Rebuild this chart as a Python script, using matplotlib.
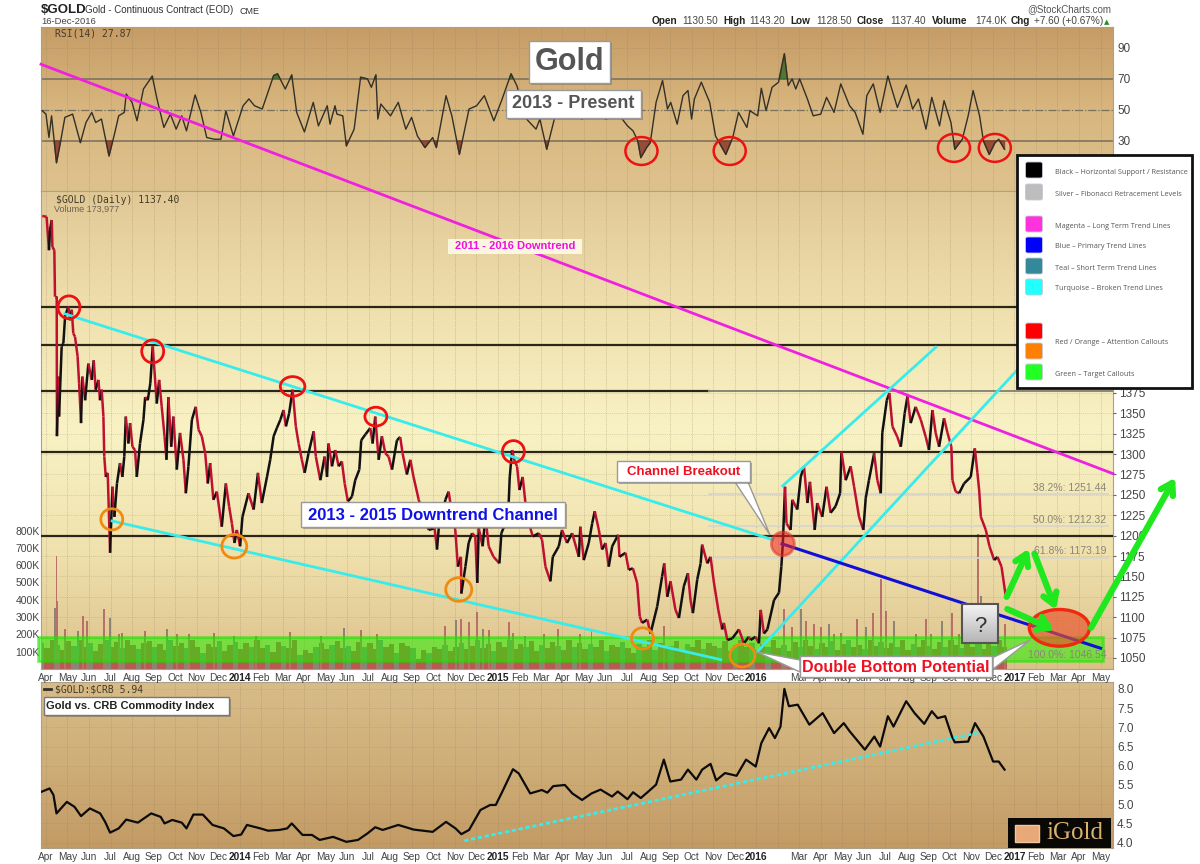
import numpy as np
import matplotlib
matplotlib.use("Agg")
import matplotlib.pyplot as plt
from matplotlib.colors import LinearSegmentedColormap
from matplotlib.collections import LineCollection
from matplotlib.patches import Ellipse, Rectangle, Polygon, FancyBboxPatch

plt.rcParams['font.family'] = ['Liberation Sans', 'DejaVu Sans']

# x values are months since Apr 2013
rsi_m = [-0.18,0.0,0.14,0.26,0.49,0.67,0.88,1.24,1.60,1.86,2.13,2.31,2.58,2.93,3.20,3.38,3.64,3.73,4.00,4.23,4.53,4.94,5.16,5.48,5.78,6.05,6.31,6.53,6.93,7.20,7.47,7.82,8.13,8.36,8.71,9.16,9.43,9.69,10.05,10.58,10.76,11.12,11.42,11.65,12.01,12.42,12.66,13.07,13.20,13.43,13.52,13.79,13.96,14.32,14.62,14.94,15.12,15.33,15.42,15.56,16.01,16.37,16.72,16.99,17.26,17.61,17.97,18.14,18.59,18.86,19.21,19.66,20.01,20.37,20.81,21.17,21.61,21.88,22.33,22.77,22.95,23.27,23.66,24.19,24.91,25.35,
         26.04,26.30,26.66,27.02,27.28,27.50,27.64,27.91,28.08,28.35,28.65,28.88,29.03,29.33,29.60,29.83,30.00,30.13,30.45,30.84,31.11,31.59,31.91,32.18,32.57,32.71,33.07,33.24,33.46,33.74,34.04,34.31,34.49,34.67,34.84,35.02,35.38,35.65,36.00,36.27,36.62,36.93,37.34,37.60,37.96,38.14,38.44,38.76,39.12,39.56,39.97,40.27,40.54,40.89,41.16,41.52,41.73,42.05,42.23,42.58,42.85,43.08,43.38,43.56,43.83,44.10,44.27,44.54]
rsi_v = [49.5,47.3,32.2,46.2,15.9,28.9,45.2,47.3,28.9,41.9,48.4,41.9,44.1,20.3,35.4,46.2,48.4,60.3,54.9,43.0,63.5,71.8,57.1,38.7,47.3,37.6,46.2,36.5,59.7,48.4,32.2,31.1,31.1,49.5,33.2,52.7,57.1,52.7,50.6,72.2,73.3,63.5,72.6,48.4,35.8,54.9,39.7,52.7,40.8,52.7,47.3,46.2,26.8,37.6,71.1,70.0,64.6,72.6,44.1,53.8,46.2,54.9,37.6,45.2,33.2,25.7,32.2,25.7,59.2,46.2,21.3,50.6,52.7,59.2,43.0,56.0,73.3,65.7,44.1,37.6,44.1,24.6,46.2,48.4,44.1,47.3,
         44.1,46.2,46.2,39.7,36.5,30.0,19.2,25.7,28.9,54.9,69.0,50.6,54.9,40.8,59.2,62.5,44.1,57.1,67.9,54.9,33.2,21.3,32.2,48.4,38.7,49.5,46.2,64.0,49.5,64.6,67.9,86.3,65.7,70.0,63.5,70.0,57.1,46.2,47.3,58.1,48.4,66.8,52.7,48.4,34.3,59.2,66.8,48.4,71.8,51.6,66.1,50.6,57.1,37.6,58.1,39.7,56.0,41.9,24.6,31.1,46.2,62.5,46.2,30.0,21.3,28.9,31.1,24.6]

price_m = [-0.17,0.03,0.14,0.19,0.27,0.30,0.39,0.42,0.50,0.51,0.58,0.61,0.73,0.81,0.89,1.04,1.12,1.20,1.27,1.35,1.47,1.54,1.63,1.69,1.82,1.97,2.13,2.22,2.31,2.44,2.51,2.59,2.67,2.71,2.78,2.87,2.98,3.09,3.18,3.30,3.44,3.55,3.64,3.71,3.83,3.91,4.02,4.14,4.22,4.37,4.53,4.61,4.73,4.85,4.96,5.04,5.15,5.26,5.38,5.51,5.60,5.69,5.82,5.92,6.08,6.23,6.39,6.50,6.62,6.78,6.96,7.09,7.24,7.40,7.52,7.63,7.78,7.94,8.17,8.36,8.51,8.64,8.76,8.87,9.02,9.13,9.41,9.65,9.85,10.03,10.27,10.42,10.58,10.73,10.89,11.04,11.15,11.30,11.46,11.61,11.74,11.89,12.02,12.20,12.44,12.54,12.75,12.95,13.06,13.13,13.29,13.44,13.60,13.75,13.88,14.03,14.22,14.37,14.56,14.65,14.84,15.07,15.18,15.30,15.46,15.61,15.77,15.92,16.08,16.23,
           16.31,16.46,16.57,16.77,16.93,17.08,17.32,17.78,18.06,18.17,18.25,18.56,18.71,18.79,19.02,19.14,19.28,19.30,19.49,19.64,19.80,19.95,20.04,20.11,20.29,20.42,20.57,20.80,21.07,21.16,21.35,21.50,21.55,21.66,21.78,21.89,22.00,22.15,22.28,22.51,22.62,22.90,23.05,23.21,23.44,23.55,23.83,23.98,24.21,24.45,24.76,24.83,24.99,25.22,25.38,25.50,25.69,25.84,26.00,26.15,26.31,26.59,26.65,26.93,27.08,27.27,27.47,27.59,27.70,27.94,28.09,28.40,28.63,28.73,28.87,29.02,29.25,29.41,29.64,29.83,29.95,30.06,30.26,30.42,30.49,30.73,30.88,31.04,31.24,31.42,31.50,31.66,31.89,32.20,32.43,32.66,
           32.74,32.97,33.13,33.21,33.36,33.52,33.83,34.06,34.17,34.24,34.34,34.41,34.60,34.68,34.91,35.07,35.22,35.38,35.50,35.72,35.84,36.07,36.27,36.46,36.69,36.90,36.96,37.16,37.39,37.55,37.78,37.98,38.09,38.24,38.48,38.63,38.79,38.86,39.07,39.19,39.33,39.56,39.72,39.90,40.03,40.18,40.41,40.65,40.88,41.03,41.19,41.34,41.50,41.73,41.89,42.07,42.12,42.27,42.43,42.66,42.97,43.16,43.28,43.36,43.44,43.67,43.84,44.06,44.21,44.40,44.60]
price_v = [1592,1591,1550,1575,1587,1554,1550,1493,1493,1322,1395,1346,1432,1436,1469,1481,1464,1477,1448,1444,1420,1387,1338,1395,1366,1411,1391,1415,1379,1391,1366,1379,1346,1297,1272,1277,1179,1260,1223,1264,1289,1272,1297,1346,1313,1338,1309,1305,1272,1313,1342,1370,1366,1387,1432,1403,1362,1391,1358,1322,1293,1370,1309,1346,1281,1326,1293,1252,1285,1342,1358,1330,1322,1301,1264,1289,1244,1254,1211,1264,1236,1215,1191,1207,1187,1223,1252,1232,1277,1240,1272,1293,1322,1332,1342,1354,1334,1350,1379,1334,1313,1293,1277,1301,1328,1297,1268,1297,1272,1313,1285,1305,1285,1291,1264,1242,1248,1268,1281,1317,1324,1332,1313,1346,1293,1322,1301,1297,1281,1305,
           1317,1321,1301,1275,1293,1272,1244,1207,1209,1183,1209,1244,1254,1240,1207,1162,1174,1129,1162,1191,1203,1199,1142,1209,1187,1223,1187,1174,1166,1203,1215,1240,1272,1305,1291,1285,1256,1272,1240,1209,1199,1203,1195,1162,1144,1174,1187,1207,1191,1203,1174,1211,1170,1191,1215,1230,1207,1183,1191,1162,1187,1201,1174,1179,1158,1160,1142,1101,1093,1097,1080,1113,1150,1166,1125,1144,1109,1099,1138,1154,1121,1105,1146,1166,1189,1166,1174,1142,1109,1085,1093,1072,1074,1085,1068,1076,
           1072,1076,1068,1109,1080,1085,1121,1130,1162,1191,1260,1215,1207,1244,1232,1272,1285,1240,1266,1207,1240,1223,1260,1228,1236,1252,1303,1268,1285,1260,1223,1207,1246,1268,1301,1268,1252,1326,1366,1375,1334,1321,1309,1350,1371,1338,1358,1342,1321,1305,1354,1326,1309,1344,1326,1309,1268,1254,1252,1264,1272,1307,1277,1256,1223,1207,1187,1170,1174,1162,1125]

crb_m = [-0.22,0.17,0.35,0.49,0.97,1.33,1.63,2.04,2.52,2.75,2.98,3.38,3.73,4.27,4.89,5.33,5.51,5.87,6.31,6.53,6.85,7.29,7.74,8.27,8.71,9.07,9.34,9.96,10.32,10.85,11.21,11.42,11.92,12.36,12.72,13.34,13.96,14.50,14.94,15.30,15.65,16.37,17.08,17.97,18.59,19.03,19.30,19.66,20.19,20.64,20.90,21.20,21.70,21.97,22.50,23.04,23.30,23.57,24.11,24.46,24.91,25.35,
         25.77,26.30,26.57,27.02,27.28,27.64,27.99,28.35,28.71,29.01,29.51,29.83,30.22,30.49,30.88,31.14,31.55,32.09,32.53,32.98,33.24,33.60,33.87,34.13,34.31,34.52,34.93,35.47,36.09,36.62,37.07,37.34,38.05,38.49,38.76,39.12,39.38,39.97,40.36,40.81,41.16,41.43,41.78,42.10,42.23,42.85,43.17,43.56,44.01,44.27,44.54]
crb_v = [5.32,5.41,5.24,4.76,5.06,4.93,4.69,4.89,4.76,4.54,4.26,4.37,4.60,4.52,4.76,4.67,4.50,4.59,4.52,4.37,4.73,4.73,4.46,4.37,4.17,4.21,4.46,4.37,4.31,4.33,4.37,4.50,4.20,4.20,4.07,4.15,4.02,4.07,4.24,4.40,4.33,4.46,4.34,4.28,4.54,4.37,4.22,4.33,4.85,4.98,4.98,5.32,5.91,5.80,5.28,5.37,5.30,5.47,5.50,5.28,5.11,5.28,
         5.38,5.20,5.33,5.13,5.31,5.16,5.33,5.51,6.16,5.59,5.64,5.90,5.64,5.90,6.05,5.62,5.81,5.74,6.16,5.98,6.59,6.98,6.72,7.02,8.00,7.55,7.59,7.07,7.37,6.85,7.11,6.90,6.42,6.76,6.50,7.29,7.02,7.68,7.37,7.09,7.42,7.24,7.29,6.76,6.61,6.63,7.11,6.76,6.11,6.11,5.90]

# volume in thousands, spikes above the green band
spike_m = [0.44,0.49,0.53,0.89,1.51,1.74,1.92,2.70,2.98,3.38,3.55,4.59,5.64,6.08,6.63,7.79,8.75,9.78,11.35,12.77,13.84,14.62,15.39,18.54,19.07,19.30,19.66,20.05,20.32,20.60,21.53,21.70,22.24,23.13,23.80,24.82,25.35,28.71,34.29,34.68,35.07,35.30,35.69,36.00,36.38,36.62,36.93,37.70,38.09,38.45,38.79,39.02,39.41,40.41,40.88,41.11,41.65,42.12,42.43,43.31,43.44,44.55]
spike_v = [355,656,394,230,220,307,278,346,294,201,210,220,230,201,201,210,191,191,215,191,236,224,201,250,282,288,269,331,230,224,269,210,191,201,230,201,224,249,345,240,345,280,260,240,260,200,210,287,240,326,518,335,280,200,287,200,280,326,200,780,422,258]
# everyday volume, one value per week
base_v = [150,120,165,140,110,160,135,170,125,150,105,145,165,130,155,120,170,140,115,150,160,125,145,110,165,135,150,120,170,130,95,145,125,160,105,140,155,115,150,130,165,120,140,100,155,135,120,165,80,110,90,125,150,115,140,160,120,135,105,155,130,150,115,165,125,145,95,150,135,120,60,110,95,130,115,140,105,125,150,115,135,165,120,145,105,155,130,170,115,145,125,160,105,140,120,155,135,110,170,125,150,115,145,130,165,105,140,125,155,120,90,145,130,165,110,150,120,135,160,105,145,125,170,115,150,135,120,160,105,140,165,125,150,110,145,130,170,120,140,105,155,125,165,135,115,150,130,160,110,145,170,125,140,115,165,135,155,120,150,130,165,110,145,125,170,135,115,155,125,165,140,120,150,130,160,115,145,135,170,125]
base_start = -0.2
base_step = 0.25

hlines = [1480, 1434, 1303, 1199]
hline_1377 = 1377
fib_levels = [1251.44, 1212.32, 1173.19]
months = ['Apr','May','Jun','Jul','Aug','Sep','Oct','Nov','Dec','2014','Feb','Mar','Apr','May','Jun','Jul','Aug','Sep','Oct','Nov','Dec','2015','Feb','Mar','Apr','May','Jun','Jul','Aug','Sep','Oct','Nov','Dec','2016','','Mar','Apr','May','Jun','Jul','Aug','Sep','Oct','Nov','Dec','2017','Feb','Mar','Apr','May']

W, H = 1200, 864
XLIM = (-0.23, 49.58)
L, R = 41, 1113
TICK = '#444444'


def panel(top, bottom, z):
    ax = fig.add_axes([L / W, 1 - bottom / H, (R - L) / W, (bottom - top) / H], zorder=z)
    ax.set_xlim(*XLIM)
    return ax


def gradient(ax, colors):
    cmap = LinearSegmentedColormap.from_list('bg', colors)
    ax.imshow(np.linspace(0, 1, 256).reshape(-1, 1), cmap=cmap, aspect='auto', zorder=0,
              extent=[*ax.get_xlim(), ax.get_ylim()[0], ax.get_ylim()[1]], origin='upper')


def dress(ax, labels=True):
    ax.set_xticks(range(len(months)))
    ax.grid(axis='x', color='#8a7a5a', ls=':', lw=0.5, alpha=0.6)
    for s in ax.spines.values():
        s.set_color('#aaa08c')
        s.set_linewidth(0.8)
    ax.tick_params(axis='x', length=0, pad=3, labelsize=7.3, labelcolor=TICK)
    if labels:
        ax.set_xticklabels(months)
        for t, name in zip(ax.get_xticklabels(), months):
            if name.isdigit():
                t.set_fontweight('bold')
                t.set_color('#222222')
    else:
        ax.set_xticklabels([])


fig = plt.figure(figsize=(12, 8.64), dpi=100, facecolor='white')

# RSI panel
ax_rsi = panel(27, 191, 1)
ax_rsi.set_ylim(-2.3, 103.5)
gradient(ax_rsi, ['#c69c66', '#d8b67e', '#dec28e'])
dress(ax_rsi, labels=False)
ax_rsi.axhline(70, color='#77705f', lw=1.1, zorder=2)
ax_rsi.axhline(30, color='#77705f', lw=1.1, zorder=2)
ax_rsi.axhline(50, color='#77705f', lw=0.9, ls='-.', zorder=2)
ax_rsi.set_yticks([30, 50, 70, 90])
ax_rsi.yaxis.tick_right()
ax_rsi.tick_params(axis='y', length=0, pad=3, labelsize=8.5, labelcolor=TICK)
ax_rsi.grid(axis='y', color='#8a7a5a', ls=':', lw=0.5, alpha=0.5)
rsi_x = np.array(rsi_m)
rsi_y = np.array(rsi_v)
ax_rsi.fill_between(rsi_x, rsi_y, 30, where=rsi_y < 30, interpolate=True, color='#8b3a2a', alpha=0.85, zorder=2)
ax_rsi.fill_between(rsi_x, rsi_y, 70, where=rsi_y > 70, interpolate=True, color='#3f6b2a', alpha=0.85, zorder=2)
ax_rsi.plot(rsi_x, rsi_y, color='#333028', lw=1.0, zorder=3)
for cm, cv in zip([27.67, 31.77, 42.19, 44.09], [23.5, 23.5, 25.5, 25.5]):
    ax_rsi.add_patch(Ellipse((cm, cv), 1.49, 18, fc='none', ec='#ee1111', lw=1.8, zorder=4))

# volume sits under the price panel
ax_vol = panel(191, 669, 2)
ax_vol.set_ylim(0, 2763)
gradient(ax_vol, ['#e0c896', '#f0e0ae', '#f8f2c4', '#f0e2ae', '#dcc08a'])
dress(ax_vol)
ax_vol.set_yticks(range(100, 900, 100))
ax_vol.set_yticklabels([f'{v}K' for v in range(100, 900, 100)])
ax_vol.tick_params(axis='y', length=0, pad=1, labelsize=7.5, labelcolor=TICK)
base_x = base_start + base_step * np.arange(len(base_v))
base_c = ['#b85a50' if i % 3 else '#8c8476' for i in range(len(base_v))]
ax_vol.bar(base_x, base_v, width=base_step, color=base_c, zorder=2)
spike_c = ['#b87068' if i % 4 else '#8c8476' for i in range(len(spike_v))]
ax_vol.bar(spike_m, spike_v, width=0.09, color=spike_c, zorder=2)

# price panel, transparent over the volume
ax_p = panel(191, 669, 3)
ax_p.set_ylim(1036.5, 1622.6)
ax_p.patch.set_alpha(0)
ax_p.set_xticks([])
ax_p.yaxis.tick_right()
ax_p.set_yticks(range(1050, 1400, 25))
ax_p.tick_params(axis='y', length=2, pad=2, labelsize=8.5, labelcolor=TICK, color='#666666')
ax_p.grid(axis='y', color='#8a7a5a', ls=':', lw=0.5, alpha=0.45)
for s in ax_p.spines.values():
    s.set_visible(False)

# green target zone
ax_p.add_patch(Rectangle((-0.37, 1046.5), 49.5, 29.4, fc='#22f000', ec='#1fe000', alpha=0.55, lw=2,
                         clip_on=False, zorder=2))

for lv in hlines:
    ax_p.plot(XLIM, [lv, lv], color='#2a2618', lw=1.6, zorder=3)
ax_p.plot([XLIM[0], 30.8], [hline_1377, hline_1377], color='#2a2618', lw=1.6, zorder=3)
ax_p.plot([30.8, XLIM[1]], [hline_1377, hline_1377], color='#8c8678', lw=1.4, zorder=3)
for lv in fib_levels:
    ax_p.plot([30.8, 49.35], [lv, lv], color='#d8d6cc', lw=1.3, zorder=3)

# price as a two colour trace, black up days and red down days
pts = np.column_stack([price_m, price_v])
segs = np.stack([pts[:-1], pts[1:]], axis=1)
seg_c = ['#111111' if b >= a else '#c01030' for a, b in zip(price_v[:-1], price_v[1:])]
ax_p.add_collection(LineCollection(segs, colors=seg_c, linewidths=1.8, zorder=4))

# trend lines
cyan = '#38ecec'
ax_p.plot([-0.23, 49.58], [1778, 1276], color='#f020e0', lw=2.0, clip_on=False, zorder=5)
ax_p.plot([0.88, 33.77], [1472, 1195], color=cyan, lw=2.0, zorder=5)
ax_p.plot([3.07, 31.35], [1218, 1048], color=cyan, lw=2.0, zorder=5)
ax_p.plot([34.23, 41.35], [1261, 1431], color=cyan, lw=2.0, zorder=5)
ax_p.plot([33.07, 45.16], [1058, 1404], color=cyan, lw=2.0, zorder=5)
ax_p.plot([34.2, 49.0], [1190, 1062], color='#1010d8', lw=2.2, zorder=5)

# callout circles
red_m = [1.07, 4.96, 11.46, 15.33, 21.72]
red_p = [1480, 1426, 1383, 1346, 1303]
red_w = [1.02, 1.02, 1.14, 1.02, 1.02]
red_h = [28, 28, 24, 23, 27]
for cm, cp, w, h in zip(red_m, red_p, red_w, red_h):
    ax_p.add_patch(Ellipse((cm, cp), w, h, fc='none', ec='#ee1111', lw=2.0, zorder=6))
ora_m = [3.06, 8.75, 19.18, 27.72, 32.36]
ora_p = [1220, 1187, 1134, 1074, 1053]
ora_w = [1.02, 1.16, 1.21, 1.02, 1.16]
ora_h = [26, 29, 29, 26, 28]
for cm, cp, w, h in zip(ora_m, ora_p, ora_w, ora_h):
    ax_p.add_patch(Ellipse((cm, cp), w, h, fc='none', ec='#f08a10', lw=2.0, zorder=6))
ax_p.add_patch(Ellipse((34.24, 1190), 1.07, 29, fc='#f02020', ec='#e03030', alpha=0.55, lw=2, zorder=6))
ax_p.add_patch(Ellipse((47.09, 1087), 2.8, 45, fc='#e8502a', ec='none', alpha=0.65, clip_on=False, zorder=6))
ax_p.add_patch(Ellipse((47.09, 1087), 2.8, 45, fc='none', ec='#ee2a10', lw=2.4, clip_on=False, zorder=6))

# green arrows
arrow_from = [(44.64, 1125), (45.93, 1178), (44.67, 1110), (48.56, 1087)]
arrow_to = [(45.67, 1184), (46.93, 1109), (46.86, 1084), (52.47, 1271)]
for a, b in zip(arrow_from, arrow_to):
    ax_p.annotate('', xy=b, xytext=a, annotation_clip=False, zorder=7,
                  arrowprops=dict(arrowstyle='->,head_length=0.8,head_width=0.5', color='#1fe81f',
                                  lw=4.5, shrinkA=0, shrinkB=0))

# CRB ratio panel
ax_crb = panel(682, 848, 1)
ax_crb.set_ylim(3.86, 8.18)
gradient(ax_crb, ['#d8bc88', '#cfae78', '#c29a64'])
dress(ax_crb)
ax_crb.yaxis.tick_right()
ax_crb.set_yticks(np.arange(4, 8.5, 0.5))
ax_crb.tick_params(axis='y', length=0, pad=3, labelsize=8.5, labelcolor=TICK)
ax_crb.grid(axis='y', color='#8a7a5a', ls=':', lw=0.5, alpha=0.4)
ax_crb.plot(crb_m, crb_v, color='#0c0c0c', lw=1.6, zorder=3)
ax_crb.plot([19.44, 43.4], [4.05, 6.87], color=cyan, lw=2, ls=(0, (1.5, 1)), zorder=3)

# overlay in pixels for boxes, text and the colour key
ov = fig.add_axes([0, 0, 1, 1], zorder=6)
ov.set_xlim(0, W)
ov.set_ylim(H, 0)
ov.axis('off')
ov.patch.set_alpha(0)


def box(x0, y0, x1, y1, fc='white', ec='#9a9a9a', lw=1.0, z=8):
    ov.add_patch(Rectangle((x0 + 2, y0 + 2), x1 - x0, y1 - y0, fc='#7a7060', ec='none', alpha=0.55, zorder=z - 1))
    ov.add_patch(Rectangle((x0, y0), x1 - x0, y1 - y0, fc=fc, ec=ec, lw=lw, zorder=z))


box(529, 41, 610, 83)
ov.text(569.5, 62, 'Gold', ha='center', va='center', fontsize=22, fontweight='bold', color='#555555', zorder=9)
box(506, 90, 641, 118)
ov.text(573.5, 104, '2013 - Present', ha='center', va='center', fontsize=13, fontweight='bold', color='#555555', zorder=9)
ov.add_patch(Rectangle((448, 239), 134, 15, fc='#fbf6e0', ec='none', zorder=8))
ov.text(515, 246, '2011 - 2016 Downtrend', ha='center', va='center', fontsize=8, fontweight='bold', color='#f010e0', zorder=9)
box(301, 502, 565, 527)
ov.text(433, 515, '2013 - 2015 Downtrend Channel', ha='center', va='center', fontsize=12, fontweight='bold', color='#1010e8', zorder=9)

# pointers
ov.add_patch(Polygon([(735, 482), (748, 482), (770, 535)], fc='white', ec='#9a9a9a', lw=1, zorder=7))
box(617, 461, 750, 482)
ov.text(683.5, 472, 'Channel Breakout', ha='center', va='center', fontsize=9.5, fontweight='bold', color='#ee1122', zorder=9)
ov.add_patch(Polygon([(757, 652), (800, 660), (800, 672)], fc='white', ec='#9a9a9a', lw=1, zorder=7))
ov.add_patch(Polygon([(1030, 640), (992, 658), (992, 670)], fc='white', ec='#9a9a9a', lw=1, zorder=7))
box(800, 656, 992, 677)
ov.text(896, 667, 'Double Bottom Potential', ha='center', va='center', fontsize=11.5, fontweight='bold', color='#ee1122', zorder=9)

# question mark box
q_cmap = LinearSegmentedColormap.from_list('q', ['#f4f4f4', '#b4b4b4'])
ov.imshow(np.linspace(0, 1, 64).reshape(-1, 1), cmap=q_cmap, extent=[962, 998, 643, 604], aspect='auto', zorder=8)
ov.set_xlim(0, W)
ov.set_ylim(H, 0)
ov.add_patch(Rectangle((962, 604), 36, 39, fc='none', ec='#555555', lw=1.5, zorder=9))
ov.text(980, 626, '?', ha='center', va='center', fontsize=16, color='#333333', zorder=10)

box(44, 697, 229, 715, ec='#777777')
ov.text(46, 706, 'Gold vs. CRB Commodity Index', ha='left', va='center', fontsize=8, fontweight='bold', color='#222222', zorder=9)

# colour key
ov.add_patch(Rectangle((1017, 155), 175, 233, fc='white', ec='#111111', lw=2, zorder=11))
key_y = [170, 192, 224, 245, 266, 287, 331, 351, 372]
key_c = ['#000000', '#bdbdbd', '#ff33dd', '#0000ff', '#338899', '#22ffff', '#ff0000', '#ff8000', '#22ff22']
for ky, kc in zip(key_y, key_c):
    ov.add_patch(FancyBboxPatch((1026.5, ky - 7), 15, 14, boxstyle='round,pad=1,rounding_size=2',
                                fc=kc, ec='#c8c8d8', lw=0.6, zorder=12))
key_ty = [172, 194, 226, 247, 268, 288, 343, 374]
key_txt = ['Black – Horizontal Support / Resistance', 'Silver – Fibonacci Retracement Levels',
           'Magenta – Long Term Trend Lines', 'Blue – Primary Trend Lines', 'Teal – Short Term Trend Lines',
           'Turquoise – Broken Trend Lines', 'Red / Orange – Attention Callouts', 'Green – Target Callouts']
for ty, tx in zip(key_ty, key_txt):
    ov.text(1055, ty, tx, ha='left', va='center', fontsize=5.2, color='#555555', family='Open Sans', zorder=12)

# fibonacci labels
for fy, ft in zip([488, 520, 551, 655], ['38.2%: 1251.44', '50.0%: 1212.32', '61.8%: 1173.19', '100.0%: 1046.54']):
    ov.text(1106, fy, ft, ha='right', va='center', fontsize=7.5, color='#8a8578', zorder=5)

# header
ov.text(41, 10, '$GOLD', ha='left', va='center', fontsize=9.5, fontweight='bold', color='#222222', parse_math=False)
ov.text(85, 10, 'Gold - Continuous Contract (EOD)', ha='left', va='center', fontsize=7, color='#333333')
ov.text(240, 11, 'CME', ha='left', va='center', fontsize=6.5, color='#333333')
ov.text(41, 22, '16-Dec-2016', ha='left', va='center', fontsize=6.8, color='#444444')
ov.text(1111, 9, '@StockCharts.com', ha='right', va='center', fontsize=7, color='#555555')
head_x = [652, 682, 723, 749, 790, 816, 857, 890, 932, 975, 1011, 1034]
head_t = ['Open', '1130.50', 'High', '1143.20', 'Low', '1128.50', 'Close', '1137.40', 'Volume', '174.0K', 'Chg', '+7.60 (+0.67%)']
for i, (hx, ht) in enumerate(zip(head_x, head_t)):
    ov.text(hx, 21, ht, ha='left', va='center', fontsize=7.2, color='#222222' if i % 2 == 0 else '#444444',
            fontweight='bold' if i % 2 == 0 else 'normal')
ov.text(1107, 22, '▲', ha='center', va='center', fontsize=5, color='#2a8a2a', family='DejaVu Sans')

# panel captions
mono = 'DejaVu Sans Mono'
ov.text(55, 34, 'RSI(14) 27.87', ha='left', va='center', fontsize=7, family=mono, color='#443c28')
ov.text(56, 200, '$GOLD (Daily) 1137.40', ha='left', va='center', fontsize=7, family=mono, color='#443c28', parse_math=False)
ov.text(54, 209, 'Volume 173,977', ha='left', va='center', fontsize=6.5, color='#6b6350')
ov.text(55, 689, '$GOLD:$CRB 5.94', ha='left', va='center', fontsize=7, family=mono, color='#443c28', parse_math=False)
ov.plot([44, 51], [689, 689], color='#333028', lw=2)
ov.set_xlim(0, W)
ov.set_ylim(H, 0)

# iGold logo
ov.add_patch(Rectangle((1008, 818), 103, 30, fc='#0a0805', ec='none', zorder=8))
ov.add_patch(Rectangle((1015, 825), 24, 17, fc='#e8a878', ec='#f0c8a0', lw=1, zorder=9))
ov.text(1046, 833, 'iGold', ha='left', va='center', fontsize=18, family='Liberation Serif', color='#d8b070', zorder=9)

fig.savefig('out.png', dpi=100)
